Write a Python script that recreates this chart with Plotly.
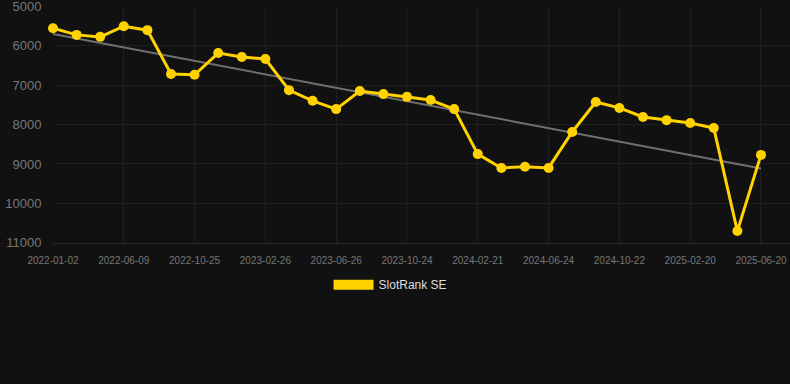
import numpy as np
import plotly.graph_objects as go

dates = ["2022-01-02", "2022-02-24", "2022-04-17", "2022-06-09", "2022-07-25", "2022-09-09",
         "2022-10-25", "2022-12-05", "2023-01-15", "2023-02-26", "2023-04-07", "2023-05-17",
         "2023-06-26", "2023-08-05", "2023-09-14", "2023-10-24", "2023-12-02", "2024-01-11",
         "2024-02-21", "2024-04-01", "2024-05-13", "2024-06-24", "2024-08-02", "2024-09-12",
         "2024-10-22", "2024-12-01", "2025-01-10", "2025-02-20", "2025-04-01", "2025-05-11",
         "2025-06-20"]
ranks = [5560, 5730, 5780, 5510, 5610, 6720, 6740, 6190, 6290, 6340, 7130, 7400,
         7610, 7150, 7230, 7300, 7380, 7610, 8750, 9100, 9070, 9100, 8190, 7430,
         7580, 7810, 7890, 7960, 8090, 10700, 8770]
tick_labels = dates[::3]
y_ticks = [5000, 6000, 7000, 8000, 9000, 10000, 11000]
series_name = "SlotRank SE"

idx = np.arange(len(ranks))
slope, intercept = np.polyfit(idx, ranks, 1)
trend = [intercept, intercept + slope * (len(ranks) - 1)]

fig = go.Figure()
fig.add_trace(go.Scatter(
    x=[dates[0], dates[-1]], y=trend, mode="lines",
    line=dict(color="#707070", width=2), showlegend=False, hoverinfo="skip"))
fig.add_trace(go.Scatter(
    x=dates, y=ranks, mode="lines+markers", name=series_name,
    line=dict(color="#FFD200", width=3), cliponaxis=False,
    marker=dict(color="#FFD200", size=10), showlegend=False))
fig.add_trace(go.Scatter(
    x=[None], y=[None], mode="lines", name=series_name,
    line=dict(color="#FFD200", width=12), showlegend=True))

fig.update_layout(
    width=790, height=384,
    paper_bgcolor="#111111", plot_bgcolor="#111111",
    margin=dict(l=53, r=0, t=6, b=141),
    font=dict(family="Liberation Sans, Arial, sans-serif", color="#888888"),
    showlegend=True,
    legend=dict(orientation="h", x=0.458, xanchor="center", y=-0.115, yanchor="top",
                itemwidth=40,
                font=dict(size=12, color="#dddddd"), bgcolor="rgba(0,0,0,0)"),
)
fig.update_xaxes(
    type="category", categoryorder="array", categoryarray=dates,
    tickvals=tick_labels, ticktext=tick_labels,
    range=[0, 31.23],
    showgrid=True, gridcolor="#1f1f1f", gridwidth=1,
    showline=True, linecolor="#2a2a2a",
    ticks="outside", ticklen=8, tickcolor="rgba(0,0,0,0)",
    tickfont=dict(size=10, color="#777777"),
    zeroline=False)
fig.update_yaxes(
    range=[11002, 4998], tickvals=y_ticks, tickformat="d",
    showgrid=True, gridcolor="#1f1f1f", gridwidth=1,
    showline=False, ticks="outside", ticklen=8, tickcolor="rgba(0,0,0,0)",
    ticklabeloverflow="allow",
    tickfont=dict(size=13, color="#777777"),
    zeroline=False)

fig.write_html("out.html", config={"displayModeBar": False},
               post_script="document.body.style.margin='0';document.body.style.background='#111111';")
